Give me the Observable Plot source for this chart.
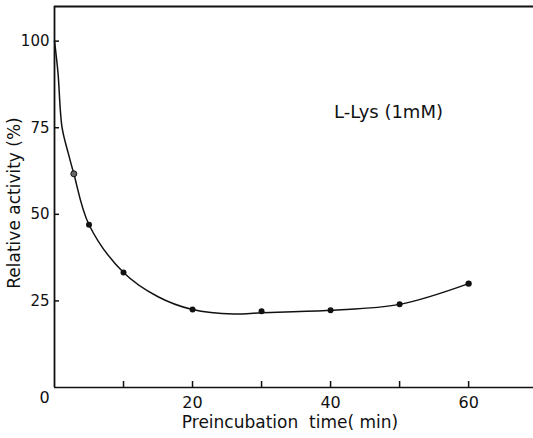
<!DOCTYPE html>
<html>
<head>
<meta charset="utf-8">
<script src="https://cdn.jsdelivr.net/npm/d3@7"></script>
<script src="https://cdn.jsdelivr.net/npm/@observablehq/plot@0.6"></script>
<style>
  html, body { margin: 0; padding: 0; background: #fff; }
  svg { display: block; }
</style>
</head>
<body>
<div id="chart"></div>
<script>
// Measured points: preincubation time (min) vs relative activity (%)
const times    = [2.8, 5, 10, 20, 30, 40, 50, 60];
const activity = [61.7, 47.0, 33.2, 22.5, 22.0, 22.3, 24.0, 30.0];

// Fitted curve drawn through the measurements
const curveTimes    = [0, 0.5, 1.1, 2, 2.8, 5, 10, 15, 20, 26, 30, 40, 50, 60];
const curveActivity = [100, 91, 75, 67.6, 61.7, 47.0, 33.2, 26.2, 22.5, 21.2, 21.6, 22.3, 24.0, 30.0];

const xTicks = [10, 20, 30, 40, 50, 60];
const xTickLabels = ["", "20", "", "40", "", "60"];
const yTicks = [25, 50, 75, 100];

const points = times.map((t, i) => ({t, a: activity[i], first: i === 0}));
const curve = curveTimes.map((t, i) => ({t, a: curveActivity[i]}));

const font = "'DejaVu Sans', sans-serif";

const chart = Plot.plot({
  width: 533,
  height: 438,
  marginLeft: 54,
  marginRight: 0,
  marginTop: 6,
  marginBottom: 51,
  style: {fontFamily: font, fontSize: "15px", color: "#111", background: "#fff"},
  x: {domain: [0, 69.4]},
  y: {domain: [0, 110]},
  marks: [
    // frame: top edge, left and bottom axes
    Plot.ruleY([110], {stroke: "#111", strokeWidth: 2}),
    Plot.ruleY([0], {stroke: "#111", strokeWidth: 1.6}),
    Plot.ruleX([0], {stroke: "#111", strokeWidth: 1.8}),
    // inward tick marks
    Plot.axisX({ticks: xTicks, tickSize: 6, dy: -6, tickFormat: () => "", label: null, strokeWidth: 1.5}),
    Plot.axisY({ticks: yTicks, tickSize: 5, dx: 5, tickFormat: () => "", label: null, strokeWidth: 1.5}),
    // tick labels
    Plot.axisX({
      ticks: xTicks,
      tickSize: 0,
      tickPadding: 9,
      tickFormat: (d, i) => xTickLabels[i],
      label: null,
      fontSize: 16
    }),
    Plot.axisY({
      ticks: yTicks,
      tickSize: 0,
      tickPadding: 5,
      label: null,
      fontSize: 15
    }),
    Plot.text(["0"], {frameAnchor: "bottom-left", dx: -15, dy: 10, lineAnchor: "middle", fontSize: 16}),
    Plot.text(["Preincubation  time( min)"], {
      frameAnchor: "bottom", dx: -4, dy: 35, lineAnchor: "middle", fontSize: 17, letterSpacing: 1.4
    }),
    Plot.text(["Relative activity (%)"], {
      frameAnchor: "left", dx: -40, dy: 6, rotate: -90,
      textAnchor: "middle", lineAnchor: "middle", fontSize: 17, letterSpacing: 1.8
    }),
    Plot.text(["L-Lys (1mM)"], {
      frameAnchor: "top-left", dx: 334, dy: 106, textAnchor: "middle", lineAnchor: "middle",
      fontSize: 18, letterSpacing: 1.2
    }),
    Plot.line(curve, {x: "t", y: "a", curve: "catmull-rom", stroke: "#111", strokeWidth: 1.5}),
    Plot.dot(points.filter(d => !d.first), {
      x: "t", y: "a", r: d => d.t === 60 ? 4.8 : 4.3, fill: "#111", stroke: "none"
    }),
    Plot.dot(points.filter(d => d.first), {
      x: "t", y: "a", r: 3, fill: "#666", stroke: "#111", strokeWidth: 1
    })
  ]
});

document.getElementById("chart").appendChild(chart);
</script>
</body>
</html>
